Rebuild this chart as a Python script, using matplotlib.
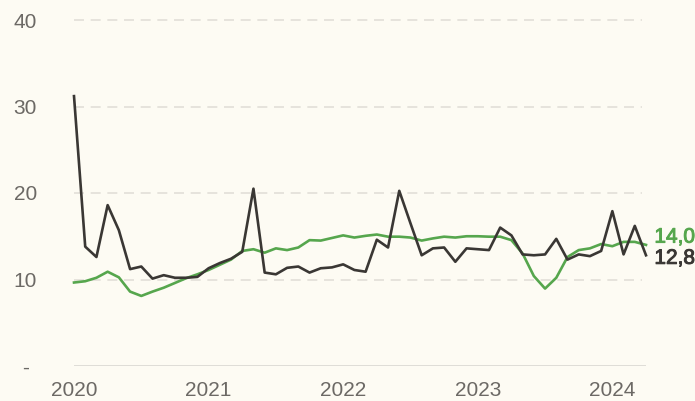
"""Двухлинейный график 2020-2024 с подписями последних значений."""

import matplotlib.pyplot as plt
import matplotlib.patheffects as pe
import numpy as np

# Месячные значения с января 2020 по апрель 2024
months = np.arange(52)
year_labels = ["2020", "2021", "2022", "2023", "2024"]
year_ticks = [0, 12, 24, 36, 48]

dark_values = [
    31.2, 13.8, 12.6, 18.6, 15.7, 11.2, 11.5, 10.1, 10.5, 10.2, 10.2, 10.3,
    11.3, 11.9, 12.4, 13.2, 20.5, 10.8, 10.6, 11.35, 11.5, 10.8, 11.3, 11.4,
    11.75, 11.1, 10.9, 14.6, 13.7, 20.25, 16.5, 12.8, 13.6, 13.7, 12.05, 13.6,
    13.5, 13.4, 16.0, 15.1, 12.9, 12.8, 12.9, 14.7, 12.3, 12.9, 12.7, 13.3,
    17.9, 12.9, 16.2, 12.8,
]
green_values = [
    9.65, 9.8, 10.2, 10.9, 10.25, 8.6, 8.1, 8.6, 9.05, 9.6, 10.15, 10.6,
    11.1, 11.7, 12.3, 13.3, 13.5, 13.1, 13.6, 13.4, 13.7, 14.55, 14.5, 14.8,
    15.1, 14.85, 15.05, 15.2, 14.95, 14.95, 14.85, 14.5, 14.75, 14.95, 14.85, 15.0,
    15.0, 14.95, 14.95, 14.55, 13.0, 10.4, 8.95, 10.2, 12.6, 13.4, 13.6, 14.1,
    13.85, 14.35, 14.35, 14.0,
]
y_ticks = [0, 10, 20, 30, 40]
y_labels = ["-", "10", "20", "30", "40"]

BG = "#fdfbf3"
GREEN = "#56a64d"
DARK = "#3a3734"
TEXT = "#6c6965"

plt.rcParams["font.family"] = ["Liberation Sans", "DejaVu Sans"]

fig = plt.figure(figsize=(6.95, 4.01), dpi=100, facecolor=BG)
ax = fig.add_axes([74 / 695, 35 / 401, 572 / 695, 346 / 401])
ax.set_facecolor(BG)

for y in y_ticks[1:]:
    ax.plot([0, 50.6], [y, y], color="#e2dfd8", lw=1.2,
            dashes=(6, 4), zorder=1, clip_on=False)
ax.axhline(0, color="#d9d7d2", lw=1.2, zorder=1)

ax.plot(months, green_values, color=GREEN, lw=1.9, zorder=3, clip_on=False)
ax.plot(months, dark_values, color=DARK, lw=1.9, zorder=4, clip_on=False)

ax.set_xlim(0, 51)
ax.set_ylim(0, 40)

for spine in ax.spines.values():
    spine.set_visible(False)

ax.set_xticks(year_ticks)
ax.set_xticklabels(year_labels)
ax.set_yticks(y_ticks)
ax.set_yticklabels(y_labels)
ax.tick_params(length=0, labelsize=15, colors=TEXT)
ax.tick_params(axis="x", pad=11)
ax.tick_params(axis="y", pad=35)
for lab in ax.get_yticklabels():
    lab.set_horizontalalignment("center")

stroke = [pe.withStroke(linewidth=0.7)]
for value, y_pos, color in [(green_values[-1], 14.9, GREEN),
                            (dark_values[-1], 12.45, DARK)]:
    t = ax.text(51.75, y_pos, f"{value:.1f}".replace(".", ","),
                color=color, fontsize=15, va="center",
                ha="left", clip_on=False)
    t.set_path_effects([pe.withStroke(linewidth=0.7, foreground=color)])

fig.savefig("out.png", dpi=100, facecolor=BG)
plt.close(fig)
